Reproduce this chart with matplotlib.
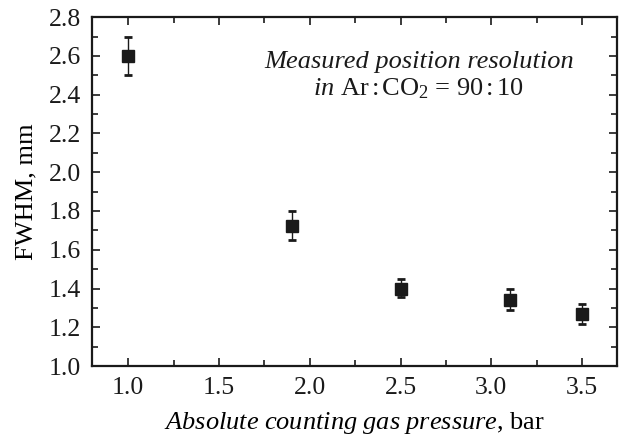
import matplotlib
matplotlib.use("Agg")
import matplotlib.pyplot as plt
from matplotlib.ticker import MultipleLocator

plt.rcParams["font.family"] = ["Liberation Serif", "DejaVu Serif"]
plt.rcParams["mathtext.fontset"] = "custom"
plt.rcParams["mathtext.rm"] = "Liberation Serif"
plt.rcParams["mathtext.it"] = "Liberation Serif:italic"

pressure = [1.0, 1.9, 2.5, 3.1, 3.5]
fwhm = [2.60, 1.72, 1.40, 1.34, 1.27]
err_low = [0.10, 0.07, 0.045, 0.05, 0.055]
err_high = [0.10, 0.08, 0.05, 0.06, 0.05]

fig = plt.figure(figsize=(6.21, 4.41), dpi=100)
ax = fig.add_axes([0.148, 0.170, 0.845, 0.791])

ax.errorbar(pressure, fwhm, yerr=[err_low, err_high], fmt="s", color="#1a1a1a",
            markersize=8.5, elinewidth=1.0, capsize=3.2, capthick=2.0)

ax.set_xlim(0.8, 3.69)
ax.set_ylim(1.0, 2.8)
ax.xaxis.set_major_locator(MultipleLocator(0.5))
ax.xaxis.set_minor_locator(MultipleLocator(0.25))
ax.yaxis.set_major_locator(MultipleLocator(0.2))
ax.yaxis.set_minor_locator(MultipleLocator(0.1))
ax.xaxis.set_major_formatter(plt.FormatStrFormatter("%.1f"))
ax.yaxis.set_major_formatter(plt.FormatStrFormatter("%.1f"))

for s in ax.spines.values():
    s.set_linewidth(1.6)
    s.set_color("#1a1a1a")
ax.tick_params(which="both", direction="in", top=True, right=True, colors="#1a1a1a",
               labelsize=18.5, width=1.2)
ax.tick_params(which="major", length=6)
ax.tick_params(which="minor", length=4)
ax.tick_params(axis="x", which="major", pad=8)
ax.tick_params(axis="y", which="major", pad=8)

ax.set_xlabel(r"$\it{Absolute\ counting\ gas\ pressure}$, bar", fontsize=19, labelpad=8)
ax.set_ylabel("FWHM, mm", fontsize=19, labelpad=8)

ax.text(0.623, 0.854, "Measured position resolution", style="italic", fontsize=19,
        ha="center", va="baseline", transform=ax.transAxes, color="#1a1a1a")
ax.text(0.623, 0.777, r"$\it{in}$ Ar$\,$:$\,$CO$_2$ = 90$\,$:$\,$10", fontsize=19,
        ha="center", va="baseline", transform=ax.transAxes, color="#1a1a1a")

fig.savefig("out.png", dpi=100)
